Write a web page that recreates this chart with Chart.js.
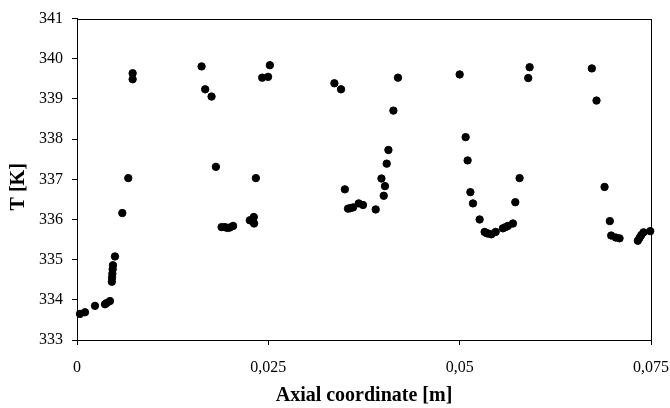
<!DOCTYPE html>
<html>
<head>
<meta charset="utf-8">
<script src="https://cdn.jsdelivr.net/npm/chart.js@4/dist/chart.umd.min.js"></script>
<style>
  html, body { margin: 0; padding: 0; background: #fff; }
  #wrap { width: 670px; height: 408px; }
</style>
</head>
<body>
<div id="wrap"><canvas id="chart"></canvas></div>
<script>
const AXIAL_M = [
  0.00039, 0.00104, 0.00235, 0.00366, 0.00388, 0.00431, 0.00455, 0.00458, 0.00462, 0.00466,
  0.00470, 0.00496, 0.00592, 0.00670, 0.00727, 0.00727, 0.01628, 0.01675, 0.01758, 0.01815,
  0.01889, 0.01932, 0.01965, 0.01997, 0.02040, 0.02258, 0.02301, 0.02310, 0.02314, 0.02337,
  0.02420, 0.02497, 0.02520, 0.03363, 0.03450, 0.03500, 0.03541, 0.03570, 0.03607, 0.03681,
  0.03737, 0.03903, 0.03978, 0.04008, 0.04024, 0.04047, 0.04069, 0.04134, 0.04194, 0.05000,
  0.05078, 0.05104, 0.05140, 0.05174, 0.05261, 0.05326, 0.05350, 0.05370, 0.05414, 0.05470,
  0.05565, 0.05600, 0.05630, 0.05696, 0.05727, 0.05783, 0.05896, 0.05914, 0.06727, 0.06788,
  0.06893, 0.06962, 0.06980, 0.07040, 0.07089, 0.07328, 0.07350, 0.07372, 0.07402, 0.07490,
];
const TEMP_K = [
  333.65, 333.69, 333.85, 333.89, 333.92, 333.97, 334.45, 334.55, 334.65, 334.76,
  334.86, 335.08, 336.16, 337.03, 339.64, 339.49, 339.81, 339.24, 339.06, 337.31,
  335.81, 335.81, 335.79, 335.80, 335.84, 335.98, 335.94, 336.06, 335.90, 337.03,
  339.53, 339.55, 339.84, 339.39, 339.24, 336.75, 336.27, 336.28, 336.30, 336.40,
  336.36, 336.25, 337.02, 336.59, 336.83, 337.39, 337.73, 338.71, 339.53, 339.61,
  338.05, 337.47, 336.68, 336.40, 336.00, 335.69, 335.66, 335.65, 335.63, 335.69,
  335.78, 335.81, 335.84, 335.90, 336.43, 337.03, 339.52, 339.79, 339.76, 338.96,
  336.81, 335.96, 335.60, 335.55, 335.53, 335.47, 335.54, 335.61, 335.68, 335.71,
];
const X_MIN = 0;
const X_MAX = 0.075;
const X_STEP = 0.025;
const Y_MIN = 333;
const Y_MAX = 341;
const Y_STEP = 1;

const FONT = '"Liberation Serif", "Times New Roman", serif';

// full box round the plot area, like the original
const frame = {
  id: 'frame',
  afterDraw(chart) {
    const { ctx, chartArea: a } = chart;
    ctx.save();
    ctx.strokeStyle = '#000';
    ctx.lineWidth = 1;
    ctx.strokeRect(Math.round(a.left) + 0.5, Math.round(a.top) + 0.5,
      Math.round(a.right - a.left), Math.round(a.bottom - a.top));
    ctx.restore();
  },
};

new Chart(document.getElementById('chart'), {
  type: 'scatter',
  data: {
    datasets: [{
      data: AXIAL_M.map((x, i) => ({ x, y: TEMP_K[i] })),
      backgroundColor: '#000',
      borderColor: '#000',
      pointRadius: 3.7,
      pointHoverRadius: 3.7,
      clip: false,
    }],
  },
  options: {
    responsive: true,
    maintainAspectRatio: false,
    animation: false,
    layout: { padding: { top: 18, right: 0, left: 0, bottom: 0 } },
    plugins: { legend: { display: false }, tooltip: { enabled: false } },
    scales: {
      x: {
        type: 'linear',
        min: X_MIN,
        max: X_MAX,
        afterFit(scale) {
          scale.height = 68;
          scale.paddingLeft = 0;
          scale.paddingRight = 19;
        },
        ticks: {
          stepSize: X_STEP,
          color: '#000',
          font: { family: FONT, size: 16 },
          padding: 13,
          maxRotation: 0,
          callback: (v) => String(+v.toFixed(3)).replace('.', ','),
        },
        grid: { drawOnChartArea: false, drawTicks: true, tickLength: 5, color: '#000' },
        border: { color: '#000', width: 1 },
        title: {
          display: true,
          text: 'Axial coordinate [m]',
          color: '#000',
          font: { family: FONT, size: 20, weight: 'bold' },
          padding: { top: 0, bottom: 0 },
        },
      },
      y: {
        type: 'linear',
        min: Y_MIN,
        max: Y_MAX,
        afterFit(scale) { scale.width = 77; },
        ticks: {
          stepSize: Y_STEP,
          color: '#000',
          font: { family: FONT, size: 16 },
          padding: 9,
        },
        grid: { drawOnChartArea: false, drawTicks: true, tickLength: 5, color: '#000' },
        border: { color: '#000', width: 1 },
        title: {
          display: true,
          text: 'T [K]   ',
          color: '#000',
          font: { family: FONT, size: 20, weight: 'bold' },
          padding: { top: 7, bottom: 7 },
        },
      },
    },
  },
  plugins: [frame],
});
</script>
</body>
</html>
